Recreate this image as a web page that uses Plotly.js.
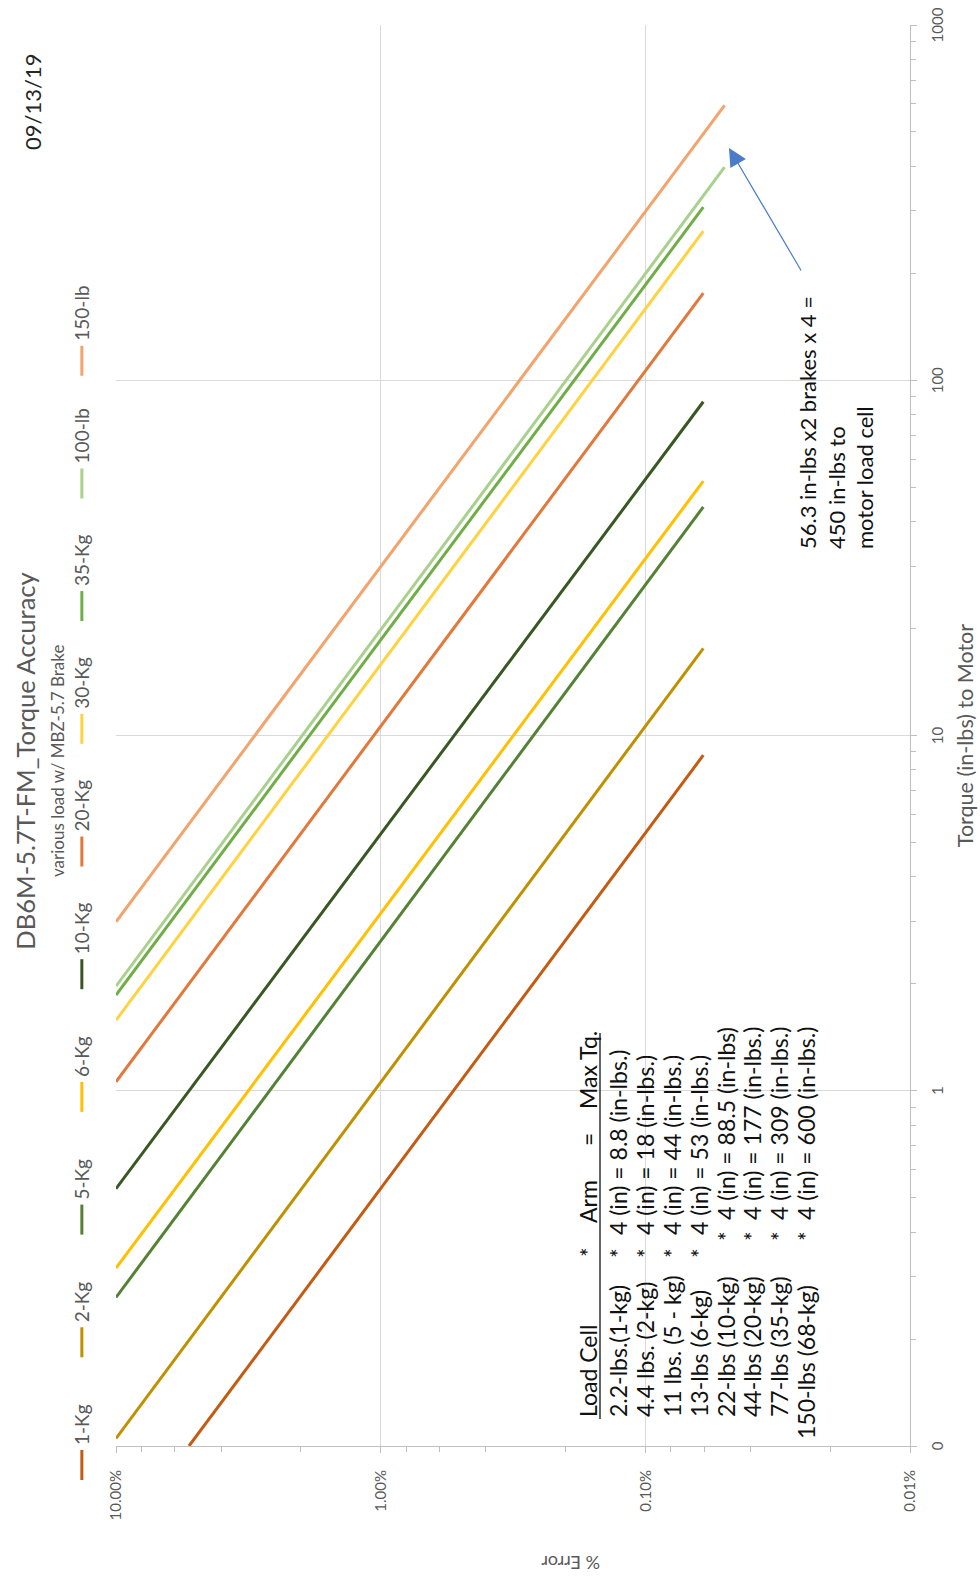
<!DOCTYPE html>
<html><head><meta charset="utf-8">
<script src="https://cdn.plot.ly/plotly-3.0.1.min.js"></script>
<style>
html,body{margin:0;padding:0;width:980px;height:1577px;overflow:hidden;background:#fff;}
#wrap{position:absolute;left:0;top:0;width:1577px;height:980px;transform-origin:0 0;transform:translate(0px,1577px) rotate(-90deg);}
</style></head>
<body><div id="wrap"><div id="chart" style="width:1577px;height:980px"></div></div>
<script>
// ---- data ----
const seriesNames = ['1-Kg','2-Kg','5-Kg','6-Kg','10-Kg','20-Kg','30-Kg','35-Kg','100-lb','150-lb'];
const startTorque = [0.1, 0.105, 0.262, 0.317, 0.53, 1.06, 1.58, 1.86, 1.97, 2.99];
const startError  = [0.053, 0.10, 0.10, 0.10, 0.10, 0.10, 0.10, 0.10, 0.10, 0.10];
const endTorque   = [8.8, 17.6, 44, 52, 87, 176, 263, 307, 398, 594];
const endError    = [0.000604, 0.000604, 0.000604, 0.000604, 0.000604, 0.000604, 0.000604, 0.000604, 0.000502, 0.000502];

const torqueTickVals = [0.1, 1, 10, 100, 1000];
const torqueTickText = ['0', '1', '10', '100', '1000'];
const errorTickVals  = [0.0001, 0.001, 0.01, 0.1];
const errorTickText  = ['0.01%', '0.10%', '1.00%', '10.00%'];

const tableHeader = ['Load Cell', '*', 'Arm', '=', 'Max Tq.'];
const loadCells = ['2.2-lbs.(1-kg)', '4.4 lbs. (2-kg)', '11 lbs. (5 - kg)', '13-lbs (6-kg)', '22-lbs (10-kg)', '44-lbs (20-kg)', '77-lbs (35-kg)', '150-lbs (68-kg)'];
const armLen = ['4 (in)', '4 (in)', '4 (in)', '4 (in)', '4 (in)', '4 (in)', '4 (in)', '4 (in)'];
const maxTq = ['8.8 (in-lbs.)', '18 (in-lbs.)', '44 (in-lbs.)', '53 (in-lbs.)', '88.5 (in-lbs)', '177 (in-lbs.)', '309 (in-lbs.)', '600 (in-lbs.)'];

const noteLines = ['56.3 in-lbs x2 brakes x 4 =', '450 in-lbs to', 'motor load cell'];

// ---- styles ----
const colors = ['#C55A11', '#BF9000', '#548235', '#FFC000', '#385723', '#E2783A', '#FFD23F', '#70AD47', '#A9D18E', '#F2A46C'];
const FONT = 'Lato, "Open Sans", sans-serif';
const GREY = '#595959';

const W = 1577, H = 980, L = 131, R = 25, T = 116, B = 70;
const pw = W - L - R, ph = H - T - B;
const px = u => (u - L) / pw;
const py = v => (H - B - v) / ph;

const traces = seriesNames.map((name, i) => ({
  type: 'scatter', mode: 'lines', name: name,
  x: [startTorque[i], endTorque[i]],
  y: [startError[i], endError[i]],
  line: {color: colors[i], width: 3}
}));

function minorVals(lo, hi) {
  const out = [];
  for (let d = lo; d < hi; d++) for (let k = 2; k <= 9; k++) out.push(k * Math.pow(10, d));
  return out;
}
function minorEven(lo, hi) {
  const out = [];
  for (let d = lo; d < hi; d++) for (let k = 2; k <= 8; k += 2) out.push(k * Math.pow(10, d));
  return out;
}

const axisCommon = {
  type: 'log', showgrid: true, gridcolor: '#D9D9D9', gridwidth: 1,
  showline: true, linecolor: '#BFBFBF', linewidth: 1,
  ticks: 'outside', ticklen: 6, tickcolor: '#BFBFBF', zeroline: false,
  tickfont: {family: FONT, size: 15, color: GREY}, automargin: false, tickmode: 'array'
};

const annotations = [];
annotations.push({text: 'various load w/ MBZ-5.7 Brake', xref: 'paper', yref: 'paper', x: px(816), y: py(57), xanchor: 'center', yanchor: 'middle', showarrow: false, font: {family: FONT, size: 17, color: GREY}});
annotations.push({text: '09/13/19', xref: 'paper', yref: 'paper', x: px(1475), y: py(32), xanchor: 'center', yanchor: 'middle', showarrow: false, font: {family: FONT, size: 22, color: '#262626'}});
annotations.push({text: '% Error', xref: 'paper', yref: 'paper', x: px(14), y: py(571), xanchor: 'center', yanchor: 'middle', textangle: -90, showarrow: false, font: {family: FONT, size: 18, color: GREY}});
annotations.push({text: noteLines.join('<br>'), xref: 'paper', yref: 'paper', x: px(1026), y: py(836), xanchor: 'left', yanchor: 'middle', align: 'left', showarrow: false, font: {family: FONT, size: 22, color: '#111'}});
annotations.push({text: '', xref: 'paper', yref: 'paper', x: px(1429), y: py(729), ax: -124, ay: 73, showarrow: true, arrowhead: 2, arrowsize: 3, arrowwidth: 1.2, arrowcolor: '#4A7CC9'});

// table
const tFont = {family: FONT, size: 23, color: '#111'};
const rowV0 = 588, rowPitch = 26.9;
const headerU = [158, 325, 352, 437, 466];
const headerAnchor = ['left', 'center', 'left', 'center', 'left'];
const rowIndent = [0, 0, 0, 0, 0, 0, 0, -22];
const starU  = [324, 324, 324, 324, 341, 341, 341, 341];
const rightU = [340, 340, 340, 340, 355, 355, 355, 355];
tableHeader.forEach((t, j) => annotations.push({text: t, xref: 'paper', yref: 'paper', x: px(headerU[j]), y: py(rowV0), xanchor: headerAnchor[j], yanchor: 'middle', showarrow: false, font: tFont}));
loadCells.forEach((t, i) => {
  const v = rowV0 + (i + 1) * rowPitch + 3;
  annotations.push({text: t, xref: 'paper', yref: 'paper', x: px(158 + rowIndent[i]), y: py(v), xanchor: 'left', yanchor: 'middle', showarrow: false, font: tFont});
  annotations.push({text: '*', xref: 'paper', yref: 'paper', x: px(starU[i]), y: py(v), xanchor: 'center', yanchor: 'middle', showarrow: false, font: tFont});
  annotations.push({text: armLen[i] + ' = ' + maxTq[i], xref: 'paper', yref: 'paper', x: px(rightU[i]), y: py(v), xanchor: 'left', yanchor: 'middle', showarrow: false, font: tFont});
});

const layout = {
  width: W, height: H,
  margin: {l: L, r: R, t: T, b: B, pad: 0},
  paper_bgcolor: '#fff', plot_bgcolor: '#fff',
  font: {family: FONT, color: GREY},
  title: {text: 'DB6M-5.7T-FM_Torque Accuracy', font: {family: FONT, size: 25.5, color: GREY}, x: 816 / W, xref: 'container', xanchor: 'center', y: 1 - 26 / H, yref: 'container', yanchor: 'middle'},
  showlegend: true,
  legend: {orientation: 'h', x: px(92), xanchor: 'left', y: py(63), yanchor: 'top', font: {family: FONT, size: 19, color: GREY}, entrywidth: 77.7, entrywidthmode: 'pixels', bgcolor: 'rgba(0,0,0,0)', traceorder: 'normal'},
  xaxis: Object.assign({}, axisCommon, {
    range: [-1, 3], tickvals: torqueTickVals, ticktext: torqueTickText, ticklabelstandoff: 8,
    minor: {tickmode: 'array', tickvals: minorVals(-1, 3), ticks: 'outside', ticklen: 5, tickcolor: '#BFBFBF', showgrid: false},
    title: {text: 'Torque (in-lbs) to Motor', font: {family: FONT, size: 21.5, color: GREY}, standoff: 12}
  }),
  yaxis: Object.assign({}, axisCommon, {
    range: [-4, -1], tickvals: errorTickVals, ticktext: errorTickText, ticklabelstandoff: 14,
    minor: {tickmode: 'array', tickvals: minorEven(-4, -1), ticks: 'outside', ticklen: 5, tickcolor: '#BFBFBF', showgrid: false}
  }),
  shapes: [{type: 'line', xref: 'paper', yref: 'paper', x0: px(158), x1: px(544), y0: py(600), y1: py(600), line: {color: '#111', width: 1.3}}],
  annotations: annotations
};

Plotly.newPlot('chart', traces, layout, {displayModeBar: false, staticPlot: true});
</script>
</body></html>
